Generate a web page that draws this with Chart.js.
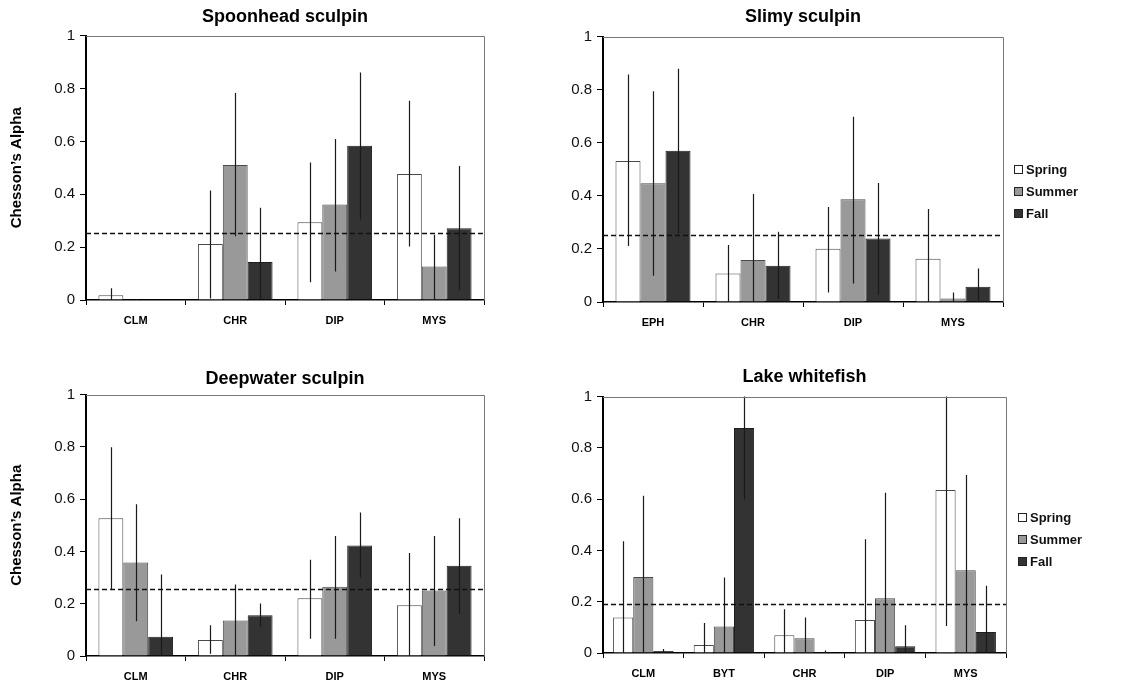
<!DOCTYPE html>
<html>
<head>
<meta charset="utf-8">
<script src="https://cdn.jsdelivr.net/npm/chart.js@4.4.1/dist/chart.umd.min.js"></script>
<style>
  body { margin: 0; background: #fff; width: 1143px; height: 686px; overflow: hidden; position: relative; font-family: "Liberation Sans", Arial, sans-serif; }
  canvas { position: absolute; }
  .legend { position: absolute; font-weight: bold; font-size: 13px; color: #111; }
  .legend div { height: 22px; line-height: 22px; white-space: nowrap; }
  .legend span { display: inline-block; width: 7px; height: 7px; border: 1px solid #222; margin-right: 3px; vertical-align: 0px; }
</style>
</head>
<body>
<canvas id="c1" width="560" height="330" style="left:0;top:0"></canvas>
<canvas id="c2" width="583" height="330" style="left:560px;top:0"></canvas>
<canvas id="c3" width="560" height="356" style="left:0;top:330px"></canvas>
<canvas id="c4" width="583" height="356" style="left:560px;top:330px"></canvas>
<div class="legend" id="leg2" style="left:1014px;top:159px"></div>
<div class="legend" id="leg4" style="left:1018px;top:507px"></div>
<script>
const seasons = ['Spring', 'Summer', 'Fall'];
const seasonFill = ['#ffffff', '#999999', '#333333'];
const yTicks = [0, 0.2, 0.4, 0.6, 0.8, 1];
const yTickLabels = ['0', '0.2', '0.4', '0.6', '0.8', '1'];
const yTitle = 'Chesson’s Alpha';

// Spoonhead sculpin
const spoonCats = ['CLM', 'CHR', 'DIP', 'MYS'];
const spoonSpring = [0.018, 0.212, 0.294, 0.477];
const spoonSummer = [0, 0.511, 0.361, 0.127];
const spoonFall = [0, 0.144, 0.583, 0.271];
const spoonSpringErr = [[0, 0.044], [0.006, 0.414], [0.067, 0.520], [0.202, 0.754]];
const spoonSummerErr = [[0, 0.004], [0.241, 0.783], [0.108, 0.609], [0, 0.247]];
const spoonFallErr = [[0, 0], [0, 0.349], [0.304, 0.860], [0.037, 0.507]];
const spoonLine = 0.255;

// Slimy sculpin
const slimyCats = ['EPH', 'CHR', 'DIP', 'MYS'];
const slimySpring = [0.531, 0.107, 0.201, 0.163];
const slimySummer = [0.447, 0.158, 0.387, 0.013];
const slimyFall = [0.570, 0.137, 0.239, 0.057];
const slimySpringErr = [[0.211, 0.857], [0, 0.215], [0.036, 0.358], [0, 0.350]];
const slimySummerErr = [[0.099, 0.794], [0, 0.407], [0.070, 0.698], [0, 0.036]];
const slimyFallErr = [[0.255, 0.879], [0.011, 0.265], [0.028, 0.448], [0, 0.126]];
const slimyLine = 0.254;

// Deepwater sculpin
const deepCats = ['CLM', 'CHR', 'DIP', 'MYS'];
const deepSpring = [0.527, 0.061, 0.221, 0.194];
const deepSummer = [0.358, 0.136, 0.265, 0.251];
const deepFall = [0.074, 0.156, 0.423, 0.345];
const deepSpringErr = [[0.256, 0.799], [0.009, 0.118], [0.066, 0.368], [0, 0.394]];
const deepSummerErr = [[0.133, 0.581], [0, 0.274], [0.066, 0.459], [0.038, 0.459]];
const deepFallErr = [[0, 0.312], [0.111, 0.201], [0.299, 0.549], [0.161, 0.527]];
const deepLine = 0.258;

// Lake whitefish
const whiteCats = ['CLM', 'BYT', 'CHR', 'DIP', 'MYS'];
const whiteSpring = [0.138, 0.031, 0.069, 0.129, 0.636];
const whiteSummer = [0.296, 0.103, 0.058, 0.214, 0.323];
const whiteFall = [0.008, 0.878, 0.004, 0.026, 0.082];
const whiteSpringErr = [[0, 0.436], [0, 0.117], [0, 0.171], [0, 0.444], [0.105, 1.0]];
const whiteSummerErr = [[0, 0.613], [0, 0.294], [0, 0.138], [0, 0.625], [0, 0.694]];
const whiteFallErr = [[0, 0.016], [0.600, 1.0], [0, 0.010], [0, 0.108], [0, 0.262]];
const whiteLine = 0.190;

const FONT = '"Liberation Sans", Arial, sans-serif';

// error bars, dashed reference line and plot frame
const extras = {
    id: 'extras',
    afterDatasetsDraw(chart, args, opts) {
        const ctx = chart.ctx;
        const area = chart.chartArea;
        const y = chart.scales.y;
        ctx.save();
        ctx.beginPath();
        ctx.rect(area.left, area.top - 1, area.right - area.left, area.bottom - area.top + 1);
        ctx.clip();
        ctx.strokeStyle = '#1a1a1a';
        ctx.lineWidth = 1.2;
        chart.data.datasets.forEach((ds, i) => {
            const meta = chart.getDatasetMeta(i);
            meta.data.forEach((bar, j) => {
                const e = ds.errors[j];
                if (!e || e[1] <= e[0]) return;
                const x = Math.round(bar.x) + 0.5;
                ctx.beginPath();
                ctx.moveTo(x, y.getPixelForValue(e[0]));
                ctx.lineTo(x, y.getPixelForValue(e[1]));
                ctx.stroke();
            });
        });
        // dashed line
        const ly = Math.round(y.getPixelForValue(opts.line)) + 0.5;
        ctx.setLineDash([5, 3]);
        ctx.lineWidth = 1.5;
        ctx.strokeStyle = '#111';
        ctx.beginPath();
        ctx.moveTo(area.left, ly);
        ctx.lineTo(area.right, ly);
        ctx.stroke();
        ctx.restore();

        // frame top/right
        ctx.save();
        ctx.strokeStyle = '#777';
        ctx.lineWidth = 1;
        ctx.beginPath();
        ctx.moveTo(area.left, Math.round(area.top) + 0.5);
        ctx.lineTo(Math.round(area.right) + 0.5, Math.round(area.top) + 0.5);
        ctx.lineTo(Math.round(area.right) + 0.5, area.bottom);
        ctx.stroke();
        ctx.restore();
    }
};

function makeChart(id, title, cats, vals, errs, line, box) {
    const datasets = seasons.map((s, i) => ({
        label: s,
        data: vals[i],
        errors: errs[i],
        backgroundColor: seasonFill[i],
        borderColor: i === 2 ? '#1e1e1e' : '#4a4a4a',
        borderWidth: 1,
        borderSkipped: 'bottom',
        categoryPercentage: 0.75,
        barPercentage: 1
    }));
    return new Chart(document.getElementById(id), {
        type: 'bar',
        data: { labels: cats, datasets },
        options: {
            responsive: false,
            animation: false,
            layout: { padding: { left: 0, right: box.right, top: 0, bottom: 0 } },
            plugins: {
                legend: { display: false },
                tooltip: { enabled: false },
                title: {
                    display: true,
                    text: title,
                    fullSize: false,
                    color: '#000',
                    font: { family: FONT, size: 18, weight: 'bold' },
                    padding: { top: box.tTop, bottom: box.tBottom }
                },
                extras: { line }
            },
            scales: {
                x: {
                    grid: { offset: true, drawOnChartArea: false, drawTicks: true, tickLength: 5, color: '#000', lineWidth: 1 },
                    border: { color: '#000', width: 1.5 },
                    ticks: { color: '#000', font: { family: FONT, size: 11, weight: 'bold' }, padding: 9 },
                    afterFit(s) { s.height = box.xh; }
                },
                y: {
                    min: 0,
                    max: 1,
                    afterBuildTicks(s) { s.ticks = yTicks.map(v => ({ value: v })); },
                    grid: { drawOnChartArea: false, drawTicks: true, tickLength: 6, color: '#000', lineWidth: 1 },
                    border: { color: '#000', width: 2 },
                    ticks: {
                        color: '#111',
                        font: { family: FONT, size: 15 },
                        padding: 5,
                        callback: (v, i) => yTickLabels[i]
                    },
                    title: {
                        display: box.yTitle,
                        text: yTitle,
                        color: '#000',
                        font: { family: FONT, size: 15, weight: 'bold' },
                        padding: { top: 8, bottom: 0 }
                    },
                    afterFit(s) { s.width = box.yw; }
                }
            }
        },
        plugins: [extras]
    });
}

makeChart('c1', 'Spoonhead sculpin', spoonCats,
    [spoonSpring, spoonSummer, spoonFall], [spoonSpringErr, spoonSummerErr, spoonFallErr], spoonLine,
    { right: 76, yw: 86, xh: 30, tTop: 6, tBottom: 8, yTitle: true });
makeChart('c2', 'Slimy sculpin', slimyCats,
    [slimySpring, slimySummer, slimyFall], [slimySpringErr, slimySummerErr, slimyFallErr], slimyLine,
    { right: 140, yw: 43, xh: 28, tTop: 6, tBottom: 9, yTitle: false });
makeChart('c3', 'Deepwater sculpin', deepCats,
    [deepSpring, deepSummer, deepFall], [deepSpringErr, deepSummerErr, deepFallErr], deepLine,
    { right: 76, yw: 86, xh: 30, tTop: 38, tBottom: 5, yTitle: true });
makeChart('c4', 'Lake whitefish', whiteCats,
    [whiteSpring, whiteSummer, whiteFall], [whiteSpringErr, whiteSummerErr, whiteFallErr], whiteLine,
    { right: 137, yw: 43, xh: 33, tTop: 36, tBottom: 9, yTitle: false });

['leg2', 'leg4'].forEach(id => {
    document.getElementById(id).innerHTML = seasons.map((s, i) =>
        `<div><span style="background:${seasonFill[i]}"></span>${s}</div>`).join('');
});
</script>
</body>
</html>
